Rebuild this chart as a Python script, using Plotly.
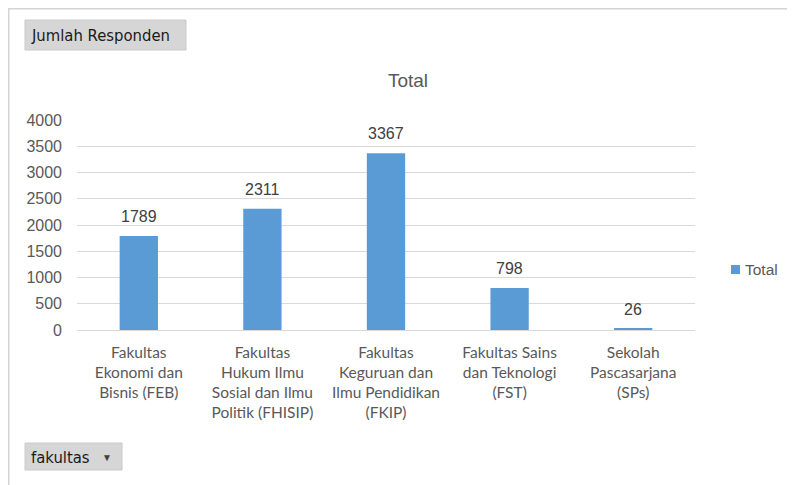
import plotly.graph_objects as go

categories = [
    "Fakultas<br>Ekonomi dan<br>Bisnis (FEB)",
    "Fakultas<br>Hukum Ilmu<br>Sosial dan Ilmu<br>Politik (FHISIP)",
    "Fakultas<br>Keguruan dan<br>Ilmu Pendidikan<br>(FKIP)",
    "Fakultas Sains<br>dan Teknologi<br>(FST)",
    "Sekolah<br>Pascasarjana<br>(SPs)",
]
values = [1789, 2311, 3367, 798, 26]
tick_vals = [0, 500, 1000, 1500, 2000, 2500, 3000, 3500, 4000]

# page is offset by the 8px default body margin
OFF = 8
W, H = 795 - OFF, 485 - OFF
PL, PR, PT, PB = 77, 695, 120, 330  # plot area in page pixels
L, R, T, B = PL - OFF, 795 - PR, PT - OFF, 485 - PB

def px(x):
    return (x - PL) / (PR - PL)

def py(y):
    return (PB - y) / (PB - PT)

NUMFONT = "Liberation Sans, Arial, sans-serif"
GRAY = "#595959"

fig = go.Figure()
fig.add_trace(go.Bar(
    x=categories, y=values, name="Total",
    marker=dict(color="#5B9BD5", line=dict(width=0)),
    width=0.31, showlegend=False,
))

shapes = [
    # frame
    dict(type="line", xref="paper", yref="paper", x0=px(8.5), x1=px(8.5), y0=py(8), y1=py(485), line=dict(color="#d4d4d4", width=2)),
    dict(type="line", xref="paper", yref="paper", x0=px(8), x1=px(795), y0=py(8.5), y1=py(8.5), line=dict(color="#d4d4d4", width=2)),
    # buttons
    dict(type="rect", xref="paper", yref="paper", x0=px(25), x1=px(186), y0=py(50), y1=py(20), fillcolor="#d6d6d6", line=dict(color="#cacaca", width=1), layer="below"),
    dict(type="rect", xref="paper", yref="paper", x0=px(25), x1=px(122), y0=py(470), y1=py(443), fillcolor="#d6d6d6", line=dict(color="#cacaca", width=1), layer="below"),
    # legend swatch
    dict(type="rect", xref="paper", yref="paper", x0=px(731), x1=px(740), y0=py(274), y1=py(265), fillcolor="#5B9BD5", line=dict(width=0)),
]

annotations = [
    dict(text="Jumlah Responden", xref="paper", yref="paper", x=px(29), y=py(35), xanchor="left", yanchor="middle", showarrow=False, font=dict(size=16.5, color="#1a1a1a", family="DejaVu Sans Condensed, Liberation Sans Narrow, sans-serif")),
    dict(text="fakultas", xref="paper", yref="paper", x=px(29), y=py(457), xanchor="left", yanchor="middle", showarrow=False, font=dict(size=16.5, color="#1a1a1a", family="DejaVu Sans Condensed, Liberation Sans Narrow, sans-serif")),
    dict(text="▼", xref="paper", yref="paper", x=px(107), y=py(457), xanchor="center", yanchor="middle", showarrow=False, font=dict(size=10, color="#404040")),
    dict(text="Total", xref="paper", yref="paper", x=px(743), y=py(269), xanchor="left", yanchor="middle", showarrow=False, font=dict(size=15.5, color=GRAY, family=NUMFONT)),
]
for c, v in zip(categories, values):
    annotations.append(dict(text=str(v), x=c, y=v, xref="x", yref="y", showarrow=False,
                            xanchor="center", yanchor="bottom", yshift=9,
                            font=dict(size=16, color="#404040", family=NUMFONT)))

fig.update_layout(
    width=W, height=H,
    margin=dict(l=L, r=R, t=T, b=B, autoexpand=False),
    paper_bgcolor="white", plot_bgcolor="white",
    title=dict(text="Total", xref="paper", x=px(408), xanchor="center", y=1 - (80 - OFF) / H, yanchor="middle",
               font=dict(size=19, color=GRAY, family=NUMFONT)),
    showlegend=False,
    xaxis=dict(showgrid=False, showline=True, linecolor="#d9d9d9", linewidth=1, ticks="",
               ticklabelstandoff=8,
               tickfont=dict(size=15.5, color=GRAY, family="Lato, Noto Sans, sans-serif"), tickangle=0),
    yaxis=dict(range=[0, 4000], tickvals=tick_vals, showgrid=True, gridcolor="#d9d9d9", gridwidth=1.3,
               zeroline=False, showline=False, ticks="", ticklabelstandoff=14,
               tickfont=dict(size=16, color=GRAY, family=NUMFONT)),
    shapes=shapes, annotations=annotations,
)

fig.write_html("out.html")
